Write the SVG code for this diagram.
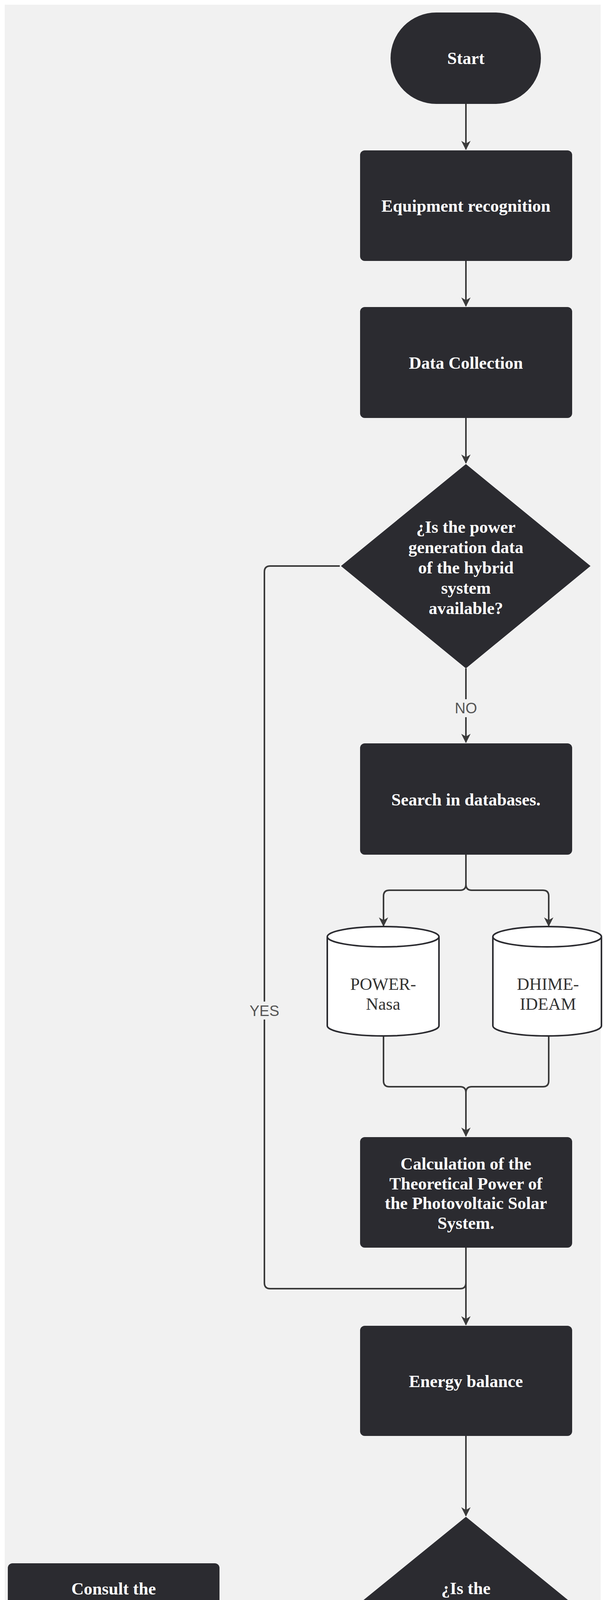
<svg xmlns="http://www.w3.org/2000/svg" width="1544" height="5471" viewBox="0 0 1544 5471">
<style>
.n{fill:#2b2b30}
.t{font-family:"Liberation Serif",serif;font-size:44px;font-weight:bold;fill:#ffffff;text-anchor:middle}
.c{font-family:"Liberation Serif",serif;font-size:44px;fill:#333;text-anchor:middle}
.l{font-family:"Liberation Sans",sans-serif;font-size:38px;fill:#555;text-anchor:middle}
.e{fill:none;stroke:#3a3a3a;stroke-width:4}
.cy{fill:#fff;stroke:#2b2b30;stroke-width:4}
</style>
<defs>
<marker id="a" viewBox="0 0 10 10" refX="9" refY="5" markerWidth="6" markerHeight="6" markerUnits="strokeWidth" orient="auto">
<path d="M0,0 L10,5 L0,10 L3,5 Z" fill="#3a3a3a"/>
</marker>
</defs>
<rect x="0" y="0" width="1544" height="5471" fill="#ffffff"/>
<rect x="12" y="12" width="1526" height="5447" fill="#f1f1f1"/>
<g id="connectors">
<path class="e" d="M1193,266 V382" marker-end="url(#a)"/>
<path class="e" d="M1193,668 V783" marker-end="url(#a)"/>
<path class="e" d="M1193,1070 V1185" marker-end="url(#a)"/>
<path class="e" d="M1193,1711 V1900" marker-end="url(#a)"/>
<path class="e" d="M1193,2188 V2264 Q1193,2279 1178,2279 H997 Q982,2279 982,2294 V2370" marker-end="url(#a)"/>
<path class="e" d="M1193,2264 Q1193,2279 1208,2279 H1390 Q1405,2279 1405,2294 V2370" marker-end="url(#a)"/>
<path class="e" d="M982,2652 V2767 Q982,2782 997,2782 H1178 Q1193,2782 1193,2797"/>
<path class="e" d="M1405,2652 V2767 Q1405,2782 1390,2782 H1208 Q1193,2782 1193,2797 V2908" marker-end="url(#a)"/>
<path class="e" d="M1193,3194 V3391" marker-end="url(#a)"/>
<path class="e" d="M870,1449 H692 Q677,1449 677,1464 V3284 Q677,3299 692,3299 H1178 Q1193,3299 1193,3284"/>
<path class="e" d="M1193,3676 V3880" marker-end="url(#a)"/>
<path class="e" d="M870,4143 H565" marker-end="url(#a)"/>
<path class="e" d="M1193,4406 V4793" marker-end="url(#a)"/>
<path class="e" d="M1193,5080 V5207" marker-end="url(#a)"/>
<rect x="1168" y="1790" width="50" height="46" fill="#f1f1f1"/>
<text class="l" x="1193" y="1826">NO</text>
<rect x="640" y="2564" width="74" height="46" fill="#f1f1f1"/>
<text class="l" x="677" y="2601">YES</text>
<rect x="680" y="4120" width="92" height="46" fill="#f1f1f1"/>
<text class="l" x="725" y="4157">NO</text>
<rect x="1152" y="4567" width="82" height="46" fill="#f1f1f1"/>
<text class="l" x="1193" y="4604">YES</text>
</g>
<g id="start"><rect class="n" x="1000" y="32" width="385" height="234" rx="117"/><text class="t" x="1193" y="164">Start</text></g>
<g id="equip"><rect class="n" x="922" y="385" width="543" height="283" rx="12"/><text class="t" x="1193" y="542">Equipment recognition</text></g>
<g id="data"><rect class="n" x="922" y="786" width="543" height="284" rx="12"/><text class="t" x="1193" y="944">Data Collection</text></g>
<g id="dec1"><path class="n" d="M1193,1188 L1512,1449 L1193,1711 L873,1449 Z"/>
<text class="t" x="1193" y="1364">¿Is the power</text><text class="t" x="1193" y="1416">generation data</text><text class="t" x="1193" y="1468">of the hybrid</text><text class="t" x="1193" y="1520">system</text><text class="t" x="1193" y="1572">available?</text></g>
<g id="search"><rect class="n" x="922" y="1903" width="543" height="285" rx="12"/><text class="t" x="1193" y="2062">Search in databases.</text></g>
<g id="power"><path class="cy" d="M838,2398 V2626 A143,26 0 0 0 1124,2626 V2398 A143,26 0 0 0 838,2398 A143,26 0 0 0 1124,2398"/>
<text class="c" x="981" y="2534">POWER-</text><text class="c" x="981" y="2585">Nasa</text></g>
<g id="dhime"><path class="cy" d="M1262,2398 V2626 A139,26 0 0 0 1540,2626 V2398 A139,26 0 0 0 1262,2398 A139,26 0 0 0 1540,2398"/>
<text class="c" x="1403" y="2534">DHIME-</text><text class="c" x="1403" y="2585">IDEAM</text></g>
<g id="calc"><rect class="n" x="922" y="2911" width="543" height="283" rx="12"/>
<text class="t" x="1193" y="2994">Calculation of the</text><text class="t" x="1193" y="3045">Theoretical Power of</text><text class="t" x="1193" y="3095">the Photovoltaic Solar</text><text class="t" x="1193" y="3146">System.</text></g>
<g id="energy"><rect class="n" x="922" y="3394" width="543" height="282" rx="12"/><text class="t" x="1193" y="3551">Energy balance</text></g>
<g id="dec2"><path class="n" d="M1193,3883 L1512,4143 L1193,4406 L873,4143 Z"/>
<text class="t" x="1193" y="4081">¿Is the</text><text class="t" x="1193" y="4133">consumption of</text><text class="t" x="1193" y="4184">the PtG pilot</text><text class="t" x="1193" y="4235">plant known?</text></g>
<g id="consult"><rect class="n" x="20" y="4002" width="542" height="284" rx="12"/>
<text class="t" x="291" y="4082">Consult the</text><text class="t" x="291" y="4133">consumption of each</text><text class="t" x="291" y="4184">equipment of the PtG</text><text class="t" x="291" y="4235">pilot plant.</text></g>
<g id="avail"><rect class="n" x="922" y="4796" width="543" height="284" rx="12"/><text class="t" x="1193" y="4954">Availability curve</text></g>
<g id="end"><rect class="n" x="1000" y="5210" width="385" height="238" rx="119"/><text class="t" x="1193" y="5345">End</text></g>
</svg>
